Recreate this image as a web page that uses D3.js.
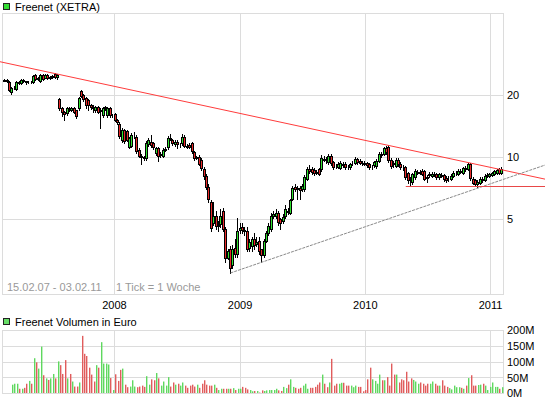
<!DOCTYPE html>
<html><head><meta charset="utf-8">
<script src="https://cdn.jsdelivr.net/npm/d3@7"></script>
<style>
body{margin:0;background:#fff;}
svg{display:block;font-family:"Liberation Sans",Arial,sans-serif;}
</style></head><body>
<svg id="c" width="545" height="398"></svg>
<script>
// ---- data (weekly candles, first week 15.02.07) ----
const startDate = "2007-02-15";
const open = [
23.6,23.9,23.2,20.8,21.7,21.5,23.2,23.0,23.8,23.4,
23.2,23.3,23.2,25.2,24.1,23.5,25.2,24.4,25.2,24.4,
24.5,25.4,24.6,19.2,17.3,16.6,16.4,17.3,17.0,17.3,
17.0,17.3,21.0,20.1,19.4,19.0,17.9,17.6,17.0,17.5,
16.8,16.0,17.3,16.0,17.3,16.0,16.2,15.2,14.6,12.1,
13.6,13.4,11.3,11.4,12.8,12.6,10.9,10.2,10.0,9.9,
11.6,11.9,11.7,10.5,11.1,10.3,10.2,10.9,11.2,12.4,
12.1,11.6,11.9,11.6,11.7,12.6,11.4,11.5,11.7,10.6,
9.9,10.1,9.7,8.8,8.1,7.2,6.1,4.8,5.2,4.65,
4.75,5.5,4.5,3.25,3.6,3.0,3.65,3.4,4.45,4.6,
4.45,4.4,3.65,3.7,4.0,3.8,3.95,3.6,3.35,3.95,
4.3,4.5,5.2,5.2,5.35,5.05,4.9,5.2,5.5,5.4,
6.3,7.2,7.1,7.15,7.0,7.0,7.9,8.8,8.8,8.7,
8.5,8.8,8.75,9.8,9.8,9.5,10.2,9.5,9.1,9.0,
8.9,9.3,9.3,9.0,8.95,9.3,9.45,9.8,9.65,9.45,
9.4,9.4,9.3,9.0,9.15,9.05,9.65,10.4,10.4,11.1,
11.25,9.75,9.4,9.1,9.7,9.35,9.0,8.95,8.4,7.8,
7.6,8.05,8.45,8.5,8.6,8.6,8.0,8.2,8.15,8.3,
8.3,8.05,8.2,8.2,7.95,7.85,7.9,8.15,8.4,8.35,
8.6,8.45,8.85,8.8,9.25,7.9,7.75,7.45,7.5,7.85,
7.8,8.15,8.15,8.25,8.35,8.45,8.75,8.45];
const high = [
24.1,24.0,23.4,22.0,22.2,23.4,23.5,24.1,24.0,23.6,
23.6,23.5,25.1,25.4,24.6,25.4,25.5,25.5,25.4,24.8,
25.1,25.6,25.4,19.4,17.5,16.8,17.5,17.5,17.6,17.5,
17.1,19.6,21.3,20.3,19.6,19.2,18.2,17.9,17.8,17.7,
17.3,17.6,17.8,17.5,17.5,16.3,16.4,15.4,14.8,13.9,
13.8,13.6,12.6,13.1,13.3,12.8,11.1,10.4,10.2,12.0,
12.4,12.8,11.9,11.3,11.3,10.6,11.1,11.2,12.7,13.0,
12.3,12.1,12.1,11.8,13.0,12.8,11.6,11.7,11.9,10.8,
10.2,10.3,9.9,9.0,8.3,7.4,6.2,6.1,5.5,4.9,
5.6,5.7,4.6,3.6,3.7,3.75,4.0,5.1,4.8,4.8,
4.6,4.6,4.0,4.1,4.3,4.1,4.1,3.6,4.0,4.4,
4.8,5.4,5.5,5.6,5.5,5.1,5.3,5.9,5.7,6.3,
7.3,7.4,7.3,7.3,7.4,8.2,9.0,9.2,9.0,8.9,
8.7,8.9,10.3,10.2,10.1,10.4,10.4,9.6,9.3,9.5,
9.6,9.5,9.5,9.2,9.4,9.6,10.1,9.9,9.8,9.6,
9.6,9.5,9.4,9.2,9.6,9.8,10.6,10.6,11.3,11.4,
11.5,9.9,9.6,9.9,9.9,9.5,9.2,9.1,8.5,8.0,
8.4,8.8,8.7,8.7,8.8,8.7,8.2,8.5,8.5,8.5,
8.4,8.4,8.4,8.3,8.1,8.1,8.3,8.6,8.6,8.8,
8.8,9.0,9.1,9.4,9.4,8.0,7.9,7.8,8.0,8.0,
8.3,8.4,8.4,8.5,8.7,8.8,8.9,8.95];
const low = [
23.4,23.3,21.0,20.3,21.4,21.3,22.7,22.8,23.2,22.8,
22.9,22.9,23.0,23.9,23.8,23.3,23.9,24.2,24.1,24.1,
24.2,24.4,24.0,17.0,15.9,15.2,16.1,16.9,16.8,16.4,
15.6,17.0,19.6,18.9,17.3,17.0,17.2,16.6,16.7,16.4,
13.9,15.8,17.1,15.8,15.8,15.7,15.0,14.6,12.4,11.9,
11.8,12.0,11.1,11.2,12.5,10.5,10.0,9.3,9.7,9.7,
11.4,11.3,11.0,10.3,9.6,10.1,10.0,10.7,11.0,12.1,
11.5,11.4,11.1,11.3,11.5,11.2,11.1,11.1,10.5,9.7,
9.8,9.2,8.7,7.9,7.0,6.1,4.4,4.7,4.5,4.4,
4.6,4.4,3.1,3.2,2.75,2.9,3.3,3.3,4.3,4.3,
4.2,3.5,3.5,3.5,3.6,3.7,3.4,3.1,3.3,3.9,
4.2,4.4,5.1,5.1,4.7,4.5,4.8,5.1,5.3,5.3,
6.2,6.9,6.3,6.3,6.9,6.9,7.8,8.4,8.3,8.2,
8.3,8.2,8.6,9.6,9.4,9.3,9.2,8.8,8.9,8.9,
8.8,9.0,8.8,8.8,8.8,9.2,9.3,9.3,9.3,9.2,
9.2,9.0,8.8,8.8,9.0,8.9,9.5,10.0,10.3,10.4,
9.5,8.9,9.0,9.0,9.1,8.8,8.7,7.9,7.5,7.3,
7.4,7.9,8.3,8.3,8.2,7.8,7.6,8.0,8.0,8.1,
7.9,7.9,8.0,7.7,7.6,7.7,7.8,8.0,8.2,8.2,
8.4,8.3,8.6,8.7,7.8,7.4,7.3,7.2,7.4,7.6,
7.7,8.0,8.0,8.1,8.2,8.3,8.35,8.35];
const close = [
23.9,23.6,21.3,21.7,21.8,23.2,23.0,23.8,23.5,23.2,
23.3,23.2,24.9,24.1,24.4,25.2,24.1,25.2,24.4,24.5,
24.9,24.6,25.1,17.3,16.6,16.2,17.3,17.2,17.4,16.6,
15.9,19.4,19.9,19.2,17.9,17.9,17.6,17.4,17.5,16.6,
17.1,17.3,17.5,17.3,16.0,16.1,15.2,14.9,12.7,13.6,
12.0,12.2,12.4,12.8,12.9,10.8,10.2,10.0,9.9,11.8,
12.1,11.5,11.2,11.1,10.2,10.4,10.9,11.0,12.4,12.3,
11.7,11.9,11.6,11.6,12.6,11.4,11.3,11.3,10.7,9.9,
10.0,9.35,8.9,8.1,7.2,6.3,4.55,5.2,4.65,4.7,
5.2,4.5,3.25,3.5,2.9,3.6,3.4,4.4,4.55,4.45,
4.4,3.6,3.9,4.0,3.75,3.9,3.5,3.35,3.95,4.3,
4.65,5.2,5.3,5.35,4.85,4.8,5.15,5.65,5.45,6.2,
7.1,7.05,7.05,6.95,7.25,8.0,8.8,8.6,8.5,8.4,
8.45,8.35,9.9,9.75,9.7,10.2,9.4,8.95,9.05,9.3,
9.4,9.2,8.95,8.95,9.25,9.35,9.8,9.5,9.45,9.4,
9.35,9.15,8.95,9.0,9.5,9.6,10.45,10.25,11.1,10.6,
9.7,9.05,9.3,9.75,9.25,8.95,8.95,8.0,7.75,7.75,
8.3,8.6,8.55,8.45,8.35,7.9,7.95,8.3,8.3,8.25,
8.0,8.3,8.15,7.85,7.75,7.9,8.15,8.4,8.45,8.6,
8.55,8.9,8.8,9.3,7.95,7.55,7.45,7.6,7.9,7.8,
8.15,8.2,8.3,8.4,8.6,8.7,8.45,8.75];
// weekly volume in million euro
const volume = [
0,0,0,28,31,31,15,15,18,31,
40,31,112,99,79,149,58,48,43,48,
62,48,102,90,62,106,48,62,38,22,
22,35,183,126,119,82,60,38,90,82,
163,95,95,92,49,11,61,40,75,79,
28,20,22,42,22,20,22,25,21,55,
28,45,42,65,48,25,38,25,52,22,
35,28,31,25,35,25,18,25,28,22,
28,18,31,42,28,25,25,28,18,11,
15,15,15,15,15,17,11,15,15,21,
18,13,11,7,8,8,3,10,8,10,
11,11,11,15,10,8,21,17,28,45,
21,18,15,18,25,31,15,18,18,21,
28,35,60,31,20,35,110,25,31,31,
34,34,25,25,25,20,25,21,21,7,
11,45,82,45,40,31,60,42,42,52,
25,95,60,60,35,45,42,69,38,48,
43,38,31,35,31,25,31,31,38,31,
25,25,42,25,21,17,13,25,20,20,
18,15,25,49,58,25,25,27,28,31,
25,11,21,35,21,21,15,20];
const priceTicks = [5, 10, 20];
const volumeTicks = [0, 50, 100, 150, 200];
const yearTicks = ["2008-01-01", "2009-01-01", "2010-01-01", "2011-01-01"];
const resistance = [{date: "2007-07-19", price: 25.4}, {date: "2010-03-04", price: 11.5}];
const support = [{date: "2008-12-04", price: 2.75}, {date: "2010-11-25", price: 7.1}];
const floorLine = {date: "2010-04-29", price: 7.2};
const title = "Freenet (XETRA)";
const volTitle = "Freenet Volumen in Euro";
const note1 = "15.02.07 - 03.02.11";
const note2 = "1 Tick = 1 Woche";

// ---- drawing ----
const svg = d3.select("#c");
const W = 545;
const parse = d3.utcParse("%Y-%m-%d");
const t0 = parse(startDate);
const dates = close.map((_, i) => d3.utcDay.offset(t0, 7 * i));

const main = {l: 2.5, r: 503.5, t: 13.5, b: 294.5};
const vol = {l: 2.5, r: 503.5, t: 330.5, b: 393.5};

const x = d3.scaleUtc().domain([parse("2008-01-01"), parse("2011-01-01")]).range([114.5, 490.5]);
const y = d3.scaleLog().domain([5, 20]).range([219.5, 95.5]);
const yv = d3.scaleLinear().domain([0, 200]).range([vol.b, vol.t]);
const grid = "#dcdcdc";
const crisp = v => Math.floor(v) + 0.5;

// legends
svg.append("rect").attr("x", 3.5).attr("y", 3.5).attr("width", 6).attr("height", 6)
  .attr("fill", "#33dd33").attr("stroke", "#222");
svg.append("text").attr("x", 15).attr("y", 11).attr("font-size", 11).attr("fill", "#000").text(title);
svg.append("rect").attr("x", 3.5).attr("y", 318.5).attr("width", 6).attr("height", 6)
  .attr("fill", "#66dd66").attr("stroke", "#222");
svg.append("text").attr("x", 15).attr("y", 326).attr("font-size", 11).attr("fill", "#000").text(volTitle);

// grids
function panelGrid(p, hVals, yScale) {
  const g = svg.append("g");
  yearTicks.forEach(d => {
    const gx = crisp(x(parse(d)));
    g.append("line").attr("x1", gx).attr("x2", gx).attr("y1", p.t).attr("y2", p.b).attr("stroke", grid);
  });
  hVals.forEach(v => {
    const gy = crisp(yScale(v));
    g.append("line").attr("x1", p.l).attr("x2", p.r).attr("y1", gy).attr("y2", gy).attr("stroke", grid);
  });
  g.append("rect").attr("x", p.l).attr("y", p.t).attr("width", p.r - p.l).attr("height", p.b - p.t)
    .attr("fill", "none").attr("stroke", grid);
}
panelGrid(main, priceTicks, y);
panelGrid(vol, volumeTicks.filter(v => v > 0 && v < 200), yv);

// axis labels
priceTicks.forEach(v => {
  svg.append("text").attr("x", 507).attr("y", y(v)).attr("dy", "0.35em").attr("font-size", 11).text(v);
});
volumeTicks.forEach(v => {
  svg.append("text").attr("x", 507).attr("y", yv(v)).attr("dy", "0.35em").attr("font-size", 11).text(v + "M");
});
yearTicks.forEach(d => {
  svg.append("text").attr("x", x(parse(d))).attr("y", 309).attr("text-anchor", "middle")
    .attr("font-size", 11).text(d.slice(0, 4));
});
svg.append("text").attr("x", 7).attr("y", 291).attr("font-size", 11).attr("fill", "#999").text(note1);
svg.append("text").attr("x", 116).attr("y", 291).attr("font-size", 11).attr("fill", "#999").text(note2);

// volume bars
const up = i => close[i] >= open[i];
svg.append("g").selectAll("rect").data(d3.range(volume.length).filter(i => volume[i] > 0)).join("rect")
  .attr("x", i => Math.round(x(dates[i])))
  .attr("width", 1.4)
  .attr("y", i => yv(volume[i]))
  .attr("height", i => vol.b - 0.5 - yv(volume[i]))
  .attr("fill", i => up(i) ? "#5fd85f" : "#e05c5c");

// candles
const cg = svg.append("g");
close.forEach((c, i) => {
  const cx = crisp(x(dates[i]));
  cg.append("line").attr("x1", cx).attr("x2", cx)
    .attr("y1", Math.round(y(high[i]))).attr("y2", Math.round(y(low[i])) + 1)
    .attr("stroke", "#000");
  const top = Math.round(y(Math.max(open[i], c)));
  const bot = Math.round(y(Math.min(open[i], c)));
  cg.append("rect").attr("x", cx - 1).attr("width", 2)
    .attr("y", top + 0.5).attr("height", Math.max(bot - top, 0))
    .attr("fill", c >= open[i] ? "#2fe02f" : "#e82a2a").attr("stroke", "#000");
});

// trend lines
function pt(d) { return {x: x(parse(d.date)), y: y(d.price)}; }
function at(p1, p2, xx) { return p1.y + (p2.y - p1.y) / (p2.x - p1.x) * (xx - p1.x); }
const r1 = pt(resistance[0]), r2 = pt(resistance[1]);
svg.append("line").attr("x1", 0).attr("y1", at(r1, r2, 0)).attr("x2", W).attr("y2", at(r1, r2, W))
  .attr("stroke", "#ff3c3c").attr("stroke-width", 1);
const s1 = pt(support[0]), s2 = pt(support[1]);
svg.append("line").attr("x1", s1.x).attr("y1", s1.y).attr("x2", W).attr("y2", at(s1, s2, W))
  .attr("stroke", "#8a8a8a").attr("stroke-width", 1).attr("stroke-dasharray", "3,1");
const f = pt(floorLine);
svg.append("line").attr("x1", f.x).attr("y1", crisp(f.y)).attr("x2", W).attr("y2", crisp(f.y))
  .attr("stroke", "#e84848").attr("stroke-width", 1);
</script>
</body></html>
